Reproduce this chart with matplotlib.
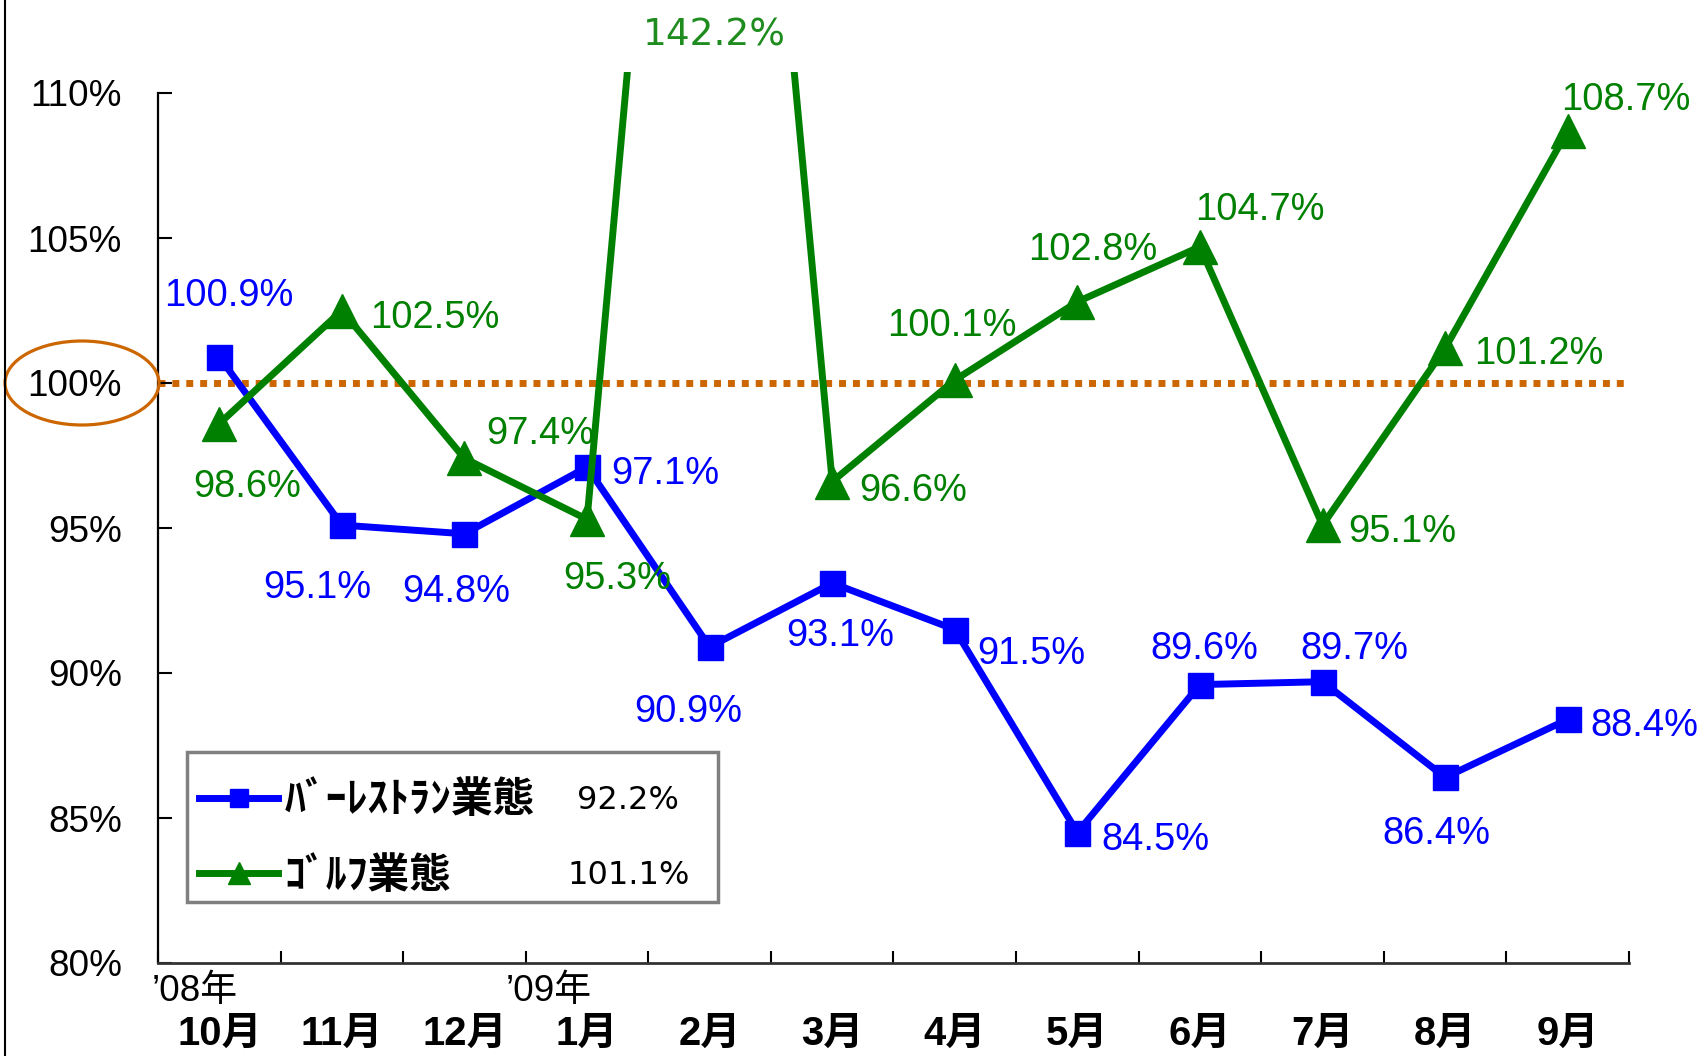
import matplotlib
matplotlib.use('Agg')
import matplotlib.pyplot as plt
from matplotlib import font_manager as fm
from matplotlib.patches import Ellipse, Rectangle
from matplotlib.lines import Line2D
import matplotlib.transforms as mtransforms

# ---------------- data ----------------
months = ['10月', '11月', '12月', '1月', '2月', '3月', '4月', '5月', '6月', '7月', '8月', '9月']
year_marks = ['’08年', '', '', '’09年', '', '', '', '', '', '', '', '']
bar_restaurant = [100.9, 95.1, 94.8, 97.1, 90.9, 93.1, 91.5, 84.5, 89.6, 89.7, 86.4, 88.4]
golf = [98.6, 102.5, 97.4, 95.3, 142.2, 96.6, 100.1, 102.8, 104.7, 95.1, 101.2, 108.7]
series_names = ['ﾊﾞｰﾚｽﾄﾗﾝ業態', 'ｺﾞﾙﾌ業態']
series_avg = [92.2, 101.1]
yticks = [80, 85, 90, 95, 100, 105, 110]
reference_level = 100

# label offsets (pixels, x right / y up) relative to each point
blue_off = [(10, 61), (-25, -63), (-8, -58), (78, -7), (-21, -65), (8, -53),
            (77, -25), (78, -8), (4, 36), (32, 33), (-9, -57), (77, -7)]
green_off = [(28, -63), (93, -7), (76, 24), (30, -60), (5, 36), (81, -9),
             (-3, 54), (15, 52), (60, 37), (80, -7), (94, -6), (58, 31)]
year_off = [-24, 0, 0, -38, 0, 0, 0, 0, 0, 0, 0, 0]

# ---------------- fonts ----------------
names = {f.name for f in fm.fontManager.ttflist}
if 'Liberation Sans Narrow' in names:
    NARROW, k = 'Liberation Sans Narrow', 1.0
else:
    NARROW, k = 'Liberation Sans', 0.9
CJK = 'Noto Sans CJK JP'
plt.rcParams['font.family'] = [NARROW, CJK, 'DejaVu Sans']

BLUE = '#0000FF'
GREEN = '#008000'
ORANGE = '#CC6600'

W, H = 1702, 1056
fig = plt.figure(figsize=(W / 100, H / 100), dpi=100)
ax_l, ax_r, ax_b, ax_t = 158, 1629, 963, 72
ax = fig.add_axes([ax_l / W, 1 - ax_b / H, (ax_r - ax_l) / W, (ax_b - ax_t) / H])
px_per_unit = 29.0
ax.set_ylim(80, 80 + (ax_b - ax_t) / px_per_unit)
ax.set_xlim(-0.5, len(months) - 0.5)

x = list(range(len(months)))

# reference line
ax.axhline(reference_level, color=ORANGE, lw=5, linestyle=(0, (1, 1)),
           dash_capstyle='butt', zorder=1)

l1, = ax.plot(x, bar_restaurant, color=BLUE, lw=5, marker='s', markersize=18,
              zorder=3)
l2, = ax.plot(x, golf, color=GREEN, lw=5, marker='^', markersize=25, zorder=4)

lab_fs = 30.5 * k
for i, v in enumerate(bar_restaurant):
    dx, dy = blue_off[i]
    ax.annotate(f'{v:.1f}%', xy=(i, v), xytext=(dx, dy), textcoords='offset pixels',
                ha='center', va='center', color=BLUE, fontsize=lab_fs, zorder=6)
ylim_top = ax.get_ylim()[1]
for i, v in enumerate(golf):
    dx, dy = green_off[i]
    if v > ylim_top:
        ax.annotate(f'{v:.1f}%', xy=(i, 1.0), xycoords=('data', 'axes fraction'),
                    xytext=(dx, dy), textcoords='offset pixels', ha='center',
                    va='center', color='#1E8C1E', fontsize=27,
                    family=['DejaVu Sans'], annotation_clip=False)
    else:
        ax.annotate(f'{v:.1f}%', xy=(i, v), xytext=(dx, dy), textcoords='offset pixels',
                    ha='center', va='center', color=GREEN, fontsize=lab_fs, zorder=6)

# axes styling
for s in ['top', 'right']:
    ax.spines[s].set_visible(False)
ax.spines['left'].set_bounds(80, 110)
ax.spines['left'].set_linewidth(1.6)
ax.spines['bottom'].set_linewidth(2.0)
ax.spines['bottom'].set_color('#333333')

ax.set_yticks(yticks)
ax.set_yticklabels([f'{t}%' for t in yticks])
ax.tick_params(axis='y', direction='in', length=10, width=1.5, pad=26,
               labelsize=29.5 * k)

ax.set_xticks(x)
ax.set_xticklabels(months)
ax.set_xticks([i - 0.5 for i in range(len(months) + 1)], minor=True)
ax.tick_params(axis='x', which='major', length=0, pad=51, labelsize=32 * k)
ax.tick_params(axis='x', which='minor', direction='in', length=9, width=1.5)
for t in ax.get_xticklabels():
    t.set_fontweight('bold')
    t.set_va('center')

for i, ym in enumerate(year_marks):
    if ym:
        ax.annotate(ym, xy=(i, 0), xycoords=('data', 'axes fraction'),
                    xytext=(year_off[i], -28), textcoords='offset pixels',
                    ha='center', va='center', fontsize=29.5 * k,
                    annotation_clip=False)

# ellipse around the 100% label
trans = mtransforms.blended_transform_factory(ax.transAxes, ax.transData)
ell = Ellipse(((82 - ax_l) / (ax_r - ax_l), reference_level),
              width=154 / (ax_r - ax_l), height=84 / px_per_unit,
              transform=trans, fill=False, edgecolor=ORANGE, lw=2.3,
              clip_on=False, zorder=5)
ax.add_patch(ell)

# legend box (frame drawn separately so the entries can sit as in the original)
def ax_fx(px):
    return (px - ax_l) / (ax_r - ax_l)

def ax_fy(py):
    return (ax_b - py) / (ax_b - ax_t)

box = Rectangle((ax_fx(187), ax_fy(902)), ax_fx(718) - ax_fx(187),
                ax_fy(752) - ax_fy(902), transform=ax.transAxes,
                facecolor='white', edgecolor='#808080', lw=2.5, zorder=7)
ax.add_patch(box)

h1 = Line2D([], [], color=BLUE, lw=5, marker='s', markersize=13)
h2 = Line2D([], [], color=GREEN, lw=5, marker='^', markersize=16)
leg = ax.legend([h1, h2], series_names, loc='center left',
                bbox_to_anchor=(ax_fx(199), ax_fy(838)),
                borderaxespad=0, borderpad=0, frameon=False,
                handlelength=1.9, handletextpad=0.15, labelspacing=0.8,
                prop={'family': [CJK], 'weight': 'bold', 'size': 30})
leg.set_zorder(8)
for txt, v in zip(leg.get_texts(), series_avg):
    ax.annotate(f'{v:.1f}%', xy=(0, 0.5), xycoords=txt, xytext=(344, 0),
                textcoords='offset pixels', ha='center', va='center',
                fontsize=23, family=['DejaVu Sans'], zorder=9,
                annotation_clip=False)

# left border line of the slide
fig.add_artist(Line2D([4.5 / W, 4.5 / W], [0, 1], transform=fig.transFigure,
                      color='black', lw=1.5))

fig.savefig('out.png', dpi=100)
